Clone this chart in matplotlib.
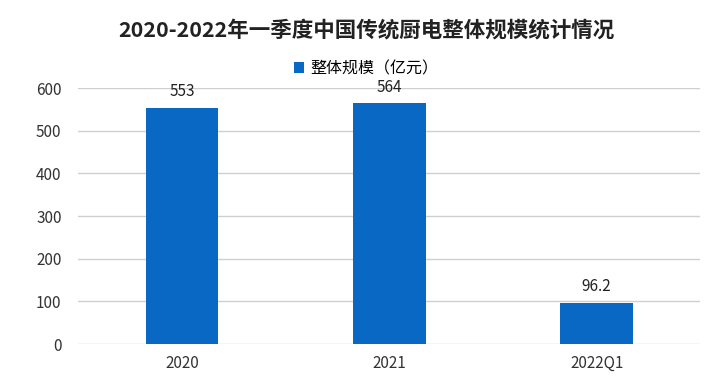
import matplotlib.pyplot as plt

plt.rcParams['font.family'] = ['Noto Sans CJK SC', 'DejaVu Sans']

categories = ['2020', '2021', '2022Q1']
values = [553, 564, 96.2]
value_labels = ['553', '564', '96.2']

fig = plt.figure(figsize=(7.11, 3.81), dpi=100)
ax = fig.add_axes([0.11, 0.097, 0.875, 0.672])

x = range(len(categories))
bars = ax.bar(x, values, width=0.35, color='#0868C4', label='整体规模（亿元）', zorder=3)

for xi, v, lab in zip(x, values, value_labels):
    ax.text(xi, v + 38, lab, ha='center', va='center', fontsize=11, color='#222222')

ax.set_xlim(-0.5, 2.5)
ax.set_ylim(0, 600)
ax.set_yticks(range(0, 601, 100))
ax.set_xticks(list(x))
ax.set_xticklabels(categories)
ax.tick_params(axis='both', length=0, labelsize=11, colors='#333333')
ax.tick_params(axis='x', pad=8)
ax.tick_params(axis='y', pad=12)
ax.grid(axis='y', color='#CFCFCF', linewidth=1, zorder=0)
for s in ax.spines.values():
    s.set_visible(False)

fig.text(0.515, 0.92, '2020-2022年一季度中国传统厨电整体规模统计情况', ha='center', va='center',
         fontsize=15.5, fontweight='bold', color='#222222')
fig.legend(handles=[bars], loc='center', bbox_to_anchor=(0.515, 0.82), frameon=False,
           fontsize=11.5, handlelength=0.6, handleheight=0.6, handletextpad=0.4)

plt.savefig('out.png', dpi=100)
